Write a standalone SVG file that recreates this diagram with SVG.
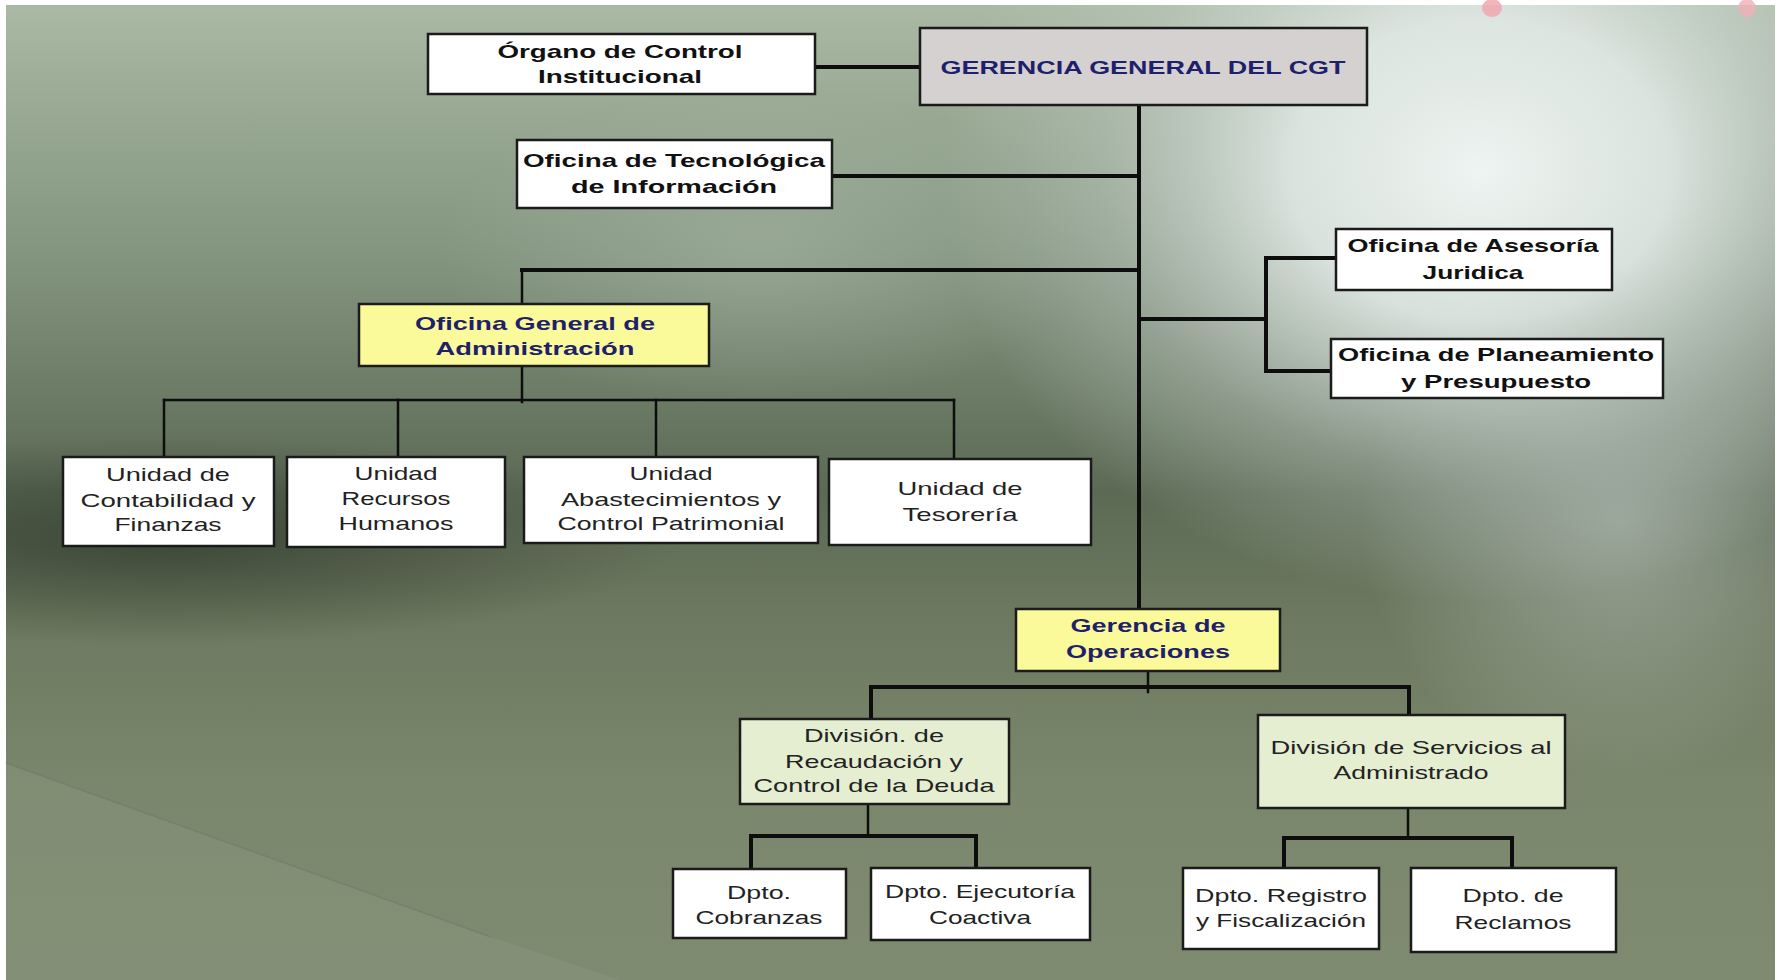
<svg xmlns="http://www.w3.org/2000/svg" width="1781" height="980" viewBox="0 0 1781 980">
<defs>
<linearGradient id="bgv" x1="0" y1="5" x2="0" y2="980" gradientUnits="userSpaceOnUse">
<stop offset="0" stop-color="#a9b9a3"/>
<stop offset="0.25" stop-color="#849580"/>
<stop offset="0.5" stop-color="#5c6a55"/>
<stop offset="0.62" stop-color="#6c785f"/>
<stop offset="0.8" stop-color="#7b876c"/>
<stop offset="1" stop-color="#7f8b70"/>
</linearGradient>
<radialGradient id="light" cx="1480" cy="170" r="540" gradientUnits="userSpaceOnUse" gradientTransform="translate(1480 170) scale(1 0.8) translate(-1480 -170)">
<stop offset="0" stop-color="#eef4f1" stop-opacity="1"/>
<stop offset="0.35" stop-color="#e2eae7" stop-opacity="0.9"/>
<stop offset="0.7" stop-color="#c4cec8" stop-opacity="0.4"/>
<stop offset="1" stop-color="#c4cec8" stop-opacity="0"/>
</radialGradient>
<radialGradient id="rightside" cx="1620" cy="520" r="260" gradientUnits="userSpaceOnUse">
<stop offset="0" stop-color="#b8c2bc" stop-opacity="0.6"/>
<stop offset="1" stop-color="#b8c2bc" stop-opacity="0"/>
</radialGradient>
<radialGradient id="mid" cx="760" cy="250" r="320" gradientUnits="userSpaceOnUse" gradientTransform="translate(760 250) scale(1 0.5) translate(-760 -250)">
<stop offset="0" stop-color="#aebeae" stop-opacity="0.45"/>
<stop offset="1" stop-color="#aebeae" stop-opacity="0"/>
</radialGradient>
<radialGradient id="dark" cx="160" cy="540" r="520" gradientUnits="userSpaceOnUse" gradientTransform="translate(160 540) scale(1 0.2) translate(-160 -540)">
<stop offset="0" stop-color="#2f392c" stop-opacity="0.75"/>
<stop offset="1" stop-color="#2f392c" stop-opacity="0"/>
</radialGradient>
<style>
.box{stroke:#1b1b1b;stroke-width:2.5}
.w{fill:#ffffff}
.g{fill:#d4d1d0}
.y{fill:#fbfa9a}
.lg{fill:#e6eed2}
.ln{stroke:#0d0d0d;stroke-width:4;fill:none;stroke-linecap:square}
.thin{stroke-width:2.5}
text{font-family:"Liberation Sans",Arial,sans-serif;text-anchor:middle;font-size:19px}
.b{font-weight:bold;fill:#111111}
.n{font-weight:bold;fill:#1f1f6b}
.r{fill:#222222}
</style>
</defs>
<rect x="0" y="0" width="1781" height="980" fill="#ffffff"/>
<g id="background">
<rect x="6" y="5" width="1769" height="975" fill="url(#bgv)"/>
<rect x="6" y="5" width="1769" height="975" fill="url(#light)"/>
<rect x="6" y="5" width="1769" height="975" fill="url(#rightside)"/>
<rect x="6" y="5" width="1769" height="975" fill="url(#mid)"/>
<rect x="6" y="5" width="1769" height="975" fill="url(#dark)"/>
<polygon points="6,763 491,937 620,980 6,980" fill="#8d9a84" opacity="0.35"/>
<line x1="6" y1="763" x2="491" y2="937" stroke="#6e7a64" stroke-width="1.5" opacity="0.5"/>
<ellipse cx="1492" cy="8" rx="10" ry="9" fill="#f0a2ab" opacity="0.8"/>
<ellipse cx="1747" cy="8" rx="9" ry="9" fill="#f0b0b6" opacity="0.8"/>
</g>
<g id="connectors">
<line class="ln" x1="815" y1="67" x2="920" y2="67"/>
<line class="ln" x1="1139" y1="105" x2="1139" y2="609"/>
<line class="ln" x1="832" y1="176" x2="1139" y2="176"/>
<line class="ln" x1="522" y1="270" x2="1139" y2="270"/>
<line class="ln thin" x1="522" y1="270" x2="522" y2="304"/>
<line class="ln thin" x1="522" y1="366" x2="522" y2="402"/>
<line class="ln thin" x1="164" y1="400" x2="954" y2="400"/>
<line class="ln thin" x1="164" y1="400" x2="164" y2="457"/>
<line class="ln thin" x1="398" y1="400" x2="398" y2="457"/>
<line class="ln thin" x1="656" y1="400" x2="656" y2="457"/>
<line class="ln thin" x1="954" y1="400" x2="954" y2="459"/>
<line class="ln" x1="1139" y1="319" x2="1266" y2="319"/>
<line class="ln" x1="1266" y1="258" x2="1266" y2="371"/>
<line class="ln" x1="1266" y1="258" x2="1336" y2="258"/>
<line class="ln" x1="1266" y1="371" x2="1331" y2="371"/>
<line class="ln thin" x1="1148" y1="671" x2="1148" y2="692"/>
<line class="ln" x1="871" y1="687" x2="1409" y2="687"/>
<line class="ln" x1="871" y1="687" x2="871" y2="719"/>
<line class="ln" x1="1409" y1="687" x2="1409" y2="715"/>
<line class="ln thin" x1="868" y1="804" x2="868" y2="836"/>
<line class="ln" x1="751" y1="836" x2="976" y2="836"/>
<line class="ln" x1="751" y1="836" x2="751" y2="869"/>
<line class="ln" x1="976" y1="836" x2="976" y2="868"/>
<line class="ln thin" x1="1408" y1="808" x2="1408" y2="838"/>
<line class="ln" x1="1284" y1="838" x2="1512" y2="838"/>
<line class="ln" x1="1284" y1="838" x2="1284" y2="868"/>
<line class="ln" x1="1512" y1="838" x2="1512" y2="868"/>
</g>
<g id="organo">
<rect class="box w" x="428" y="34" width="387" height="60"/>
<text class="b" x="620" y="58" textLength="245" lengthAdjust="spacingAndGlyphs">Órgano de Control</text>
<text class="b" x="620" y="83" textLength="164" lengthAdjust="spacingAndGlyphs">Institucional</text>
</g>
<g id="gerencia-general">
<rect class="box g" x="920" y="28" width="447" height="77"/>
<text class="n" x="1143" y="74" font-size="21" textLength="405" lengthAdjust="spacingAndGlyphs">GERENCIA GENERAL DEL CGT</text>
</g>
<g id="tecnologica">
<rect class="box w" x="517" y="140" width="315" height="68"/>
<text class="b" x="674" y="167" textLength="302" lengthAdjust="spacingAndGlyphs">Oficina de Tecnológica</text>
<text class="b" x="674" y="193" textLength="206" lengthAdjust="spacingAndGlyphs">de  Información</text>
</g>
<g id="oficina-general">
<rect class="box y" x="359" y="304" width="350" height="62"/>
<text class="n" x="535" y="330" textLength="240" lengthAdjust="spacingAndGlyphs">Oficina General de</text>
<text class="n" x="535" y="355" textLength="199" lengthAdjust="spacingAndGlyphs">Administración</text>
</g>
<g id="asesoria">
<rect class="box w" x="1336" y="229" width="276" height="61"/>
<text class="b" x="1473" y="252" textLength="251" lengthAdjust="spacingAndGlyphs">Oficina de Asesoría</text>
<text class="b" x="1473" y="279" textLength="101" lengthAdjust="spacingAndGlyphs">Juridica</text>
</g>
<g id="planeamiento">
<rect class="box w" x="1331" y="339" width="332" height="59"/>
<text class="b" x="1496" y="361" textLength="316" lengthAdjust="spacingAndGlyphs">Oficina de Planeamiento</text>
<text class="b" x="1496" y="388" textLength="190" lengthAdjust="spacingAndGlyphs">y Presupuesto</text>
</g>
<g id="unidad-contabilidad">
<rect class="box w" x="63" y="457" width="211" height="89"/>
<text class="r" x="168" y="481" textLength="124" lengthAdjust="spacingAndGlyphs">Unidad de</text>
<text class="r" x="168" y="507" textLength="175" lengthAdjust="spacingAndGlyphs">Contabilidad y</text>
<text class="r" x="168" y="531" textLength="107" lengthAdjust="spacingAndGlyphs">Finanzas</text>
</g>
<g id="unidad-rrhh">
<rect class="box w" x="287" y="457" width="218" height="90"/>
<text class="r" x="396" y="480" textLength="83" lengthAdjust="spacingAndGlyphs">Unidad</text>
<text class="r" x="396" y="505" textLength="109" lengthAdjust="spacingAndGlyphs">Recursos</text>
<text class="r" x="396" y="530" textLength="115" lengthAdjust="spacingAndGlyphs">Humanos</text>
</g>
<g id="unidad-abastecimientos">
<rect class="box w" x="524" y="457" width="294" height="86"/>
<text class="r" x="671" y="480" textLength="83" lengthAdjust="spacingAndGlyphs">Unidad</text>
<text class="r" x="671" y="506" textLength="220" lengthAdjust="spacingAndGlyphs">Abastecimientos  y</text>
<text class="r" x="671" y="530" textLength="227" lengthAdjust="spacingAndGlyphs">Control Patrimonial</text>
</g>
<g id="unidad-tesoreria">
<rect class="box w" x="829" y="459" width="262" height="86"/>
<text class="r" x="960" y="495" textLength="125" lengthAdjust="spacingAndGlyphs">Unidad de</text>
<text class="r" x="960" y="521" textLength="115" lengthAdjust="spacingAndGlyphs">Tesorería</text>
</g>
<g id="gerencia-operaciones">
<rect class="box y" x="1016" y="609" width="264" height="62"/>
<text class="n" x="1148" y="632" textLength="155" lengthAdjust="spacingAndGlyphs">Gerencia de</text>
<text class="n" x="1148" y="658" textLength="164" lengthAdjust="spacingAndGlyphs">Operaciones</text>
</g>
<g id="division-recaudacion">
<rect class="box lg" x="740" y="719" width="269" height="85"/>
<text class="r" x="874" y="742" textLength="140" lengthAdjust="spacingAndGlyphs">División. de</text>
<text class="r" x="874" y="768" textLength="178" lengthAdjust="spacingAndGlyphs">Recaudación y</text>
<text class="r" x="874" y="792" textLength="241" lengthAdjust="spacingAndGlyphs">Control de la Deuda</text>
</g>
<g id="division-servicios">
<rect class="box lg" x="1258" y="715" width="307" height="93"/>
<text class="r" x="1411" y="754" textLength="281" lengthAdjust="spacingAndGlyphs">División de Servicios al</text>
<text class="r" x="1411" y="779" textLength="155" lengthAdjust="spacingAndGlyphs">Administrado</text>
</g>
<g id="dpto-cobranzas">
<rect class="box w" x="673" y="869" width="173" height="69"/>
<text class="r" x="759" y="899" textLength="64" lengthAdjust="spacingAndGlyphs">Dpto.</text>
<text class="r" x="759" y="924" textLength="127" lengthAdjust="spacingAndGlyphs">Cobranzas</text>
</g>
<g id="dpto-ejecutoria">
<rect class="box w" x="871" y="868" width="219" height="72"/>
<text class="r" x="980" y="898" textLength="190" lengthAdjust="spacingAndGlyphs">Dpto. Ejecutoría</text>
<text class="r" x="980" y="924" textLength="102" lengthAdjust="spacingAndGlyphs">Coactiva</text>
</g>
<g id="dpto-registro">
<rect class="box w" x="1183" y="868" width="196" height="81"/>
<text class="r" x="1281" y="902" textLength="172" lengthAdjust="spacingAndGlyphs">Dpto. Registro</text>
<text class="r" x="1281" y="927" textLength="170" lengthAdjust="spacingAndGlyphs">y Fiscalización</text>
</g>
<g id="dpto-reclamos">
<rect class="box w" x="1411" y="868" width="205" height="84"/>
<text class="r" x="1513" y="902" textLength="101" lengthAdjust="spacingAndGlyphs">Dpto. de</text>
<text class="r" x="1513" y="929" textLength="117" lengthAdjust="spacingAndGlyphs">Reclamos</text>
</g>
</svg>
